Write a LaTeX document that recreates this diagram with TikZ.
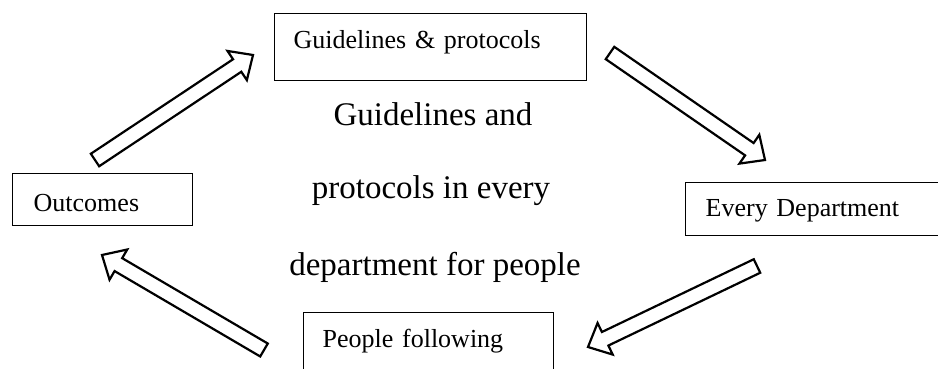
\documentclass[tikz,border=0pt]{standalone}
\usepackage{fontspec}
\setmainfont{Liberation Serif}
\usetikzlibrary{calc}

% outlined block arrow from a tail coordinate to a tip coordinate
\newcommand\blockarrow[2]{%
  \coordinate (#1-base) at ($(#2)!19pt!(#1)$);
  \draw[barrow]
    ($(#1)!7.5pt!90:(#2)$) -- ($(#1-base)!7.5pt!90:(#2)$) --
    ($(#1-base)!17.5pt!90:(#2)$) -- (#2) --
    ($(#1-base)!17.5pt!-90:(#2)$) -- ($(#1-base)!7.5pt!-90:(#2)$) --
    ($(#1)!7.5pt!-90:(#2)$) -- cycle;
}

\tikzset{
  box/.style={draw, line width=1.4pt, anchor=north west, inner ysep=0pt,
    align=left, font=\fontsize{26}{30}\selectfont},
  barrow/.style={draw, line width=2.2pt, line join=miter, fill=white},
  centretext/.style={anchor=base, font=\fontsize{33}{38}\selectfont, inner sep=0pt}
}

\begin{document}
\begin{tikzpicture}[x=1pt, y=-1pt]
\useasboundingbox (0,0) rectangle (938,369);
\clip (0,0) rectangle (938,369);

% process boxes
\node[box, inner xsep=19pt, text width=274pt, text height=35pt, text depth=32pt]
  (gp) at (274,13) {Guidelines \& protocols};
\node[box, inner xsep=21pt, text width=138pt, text height=38pt, text depth=14pt]
  (out) at (12,173) {Outcomes};
\node[box, inner xsep=20pt, text width=220pt, text height=34pt, text depth=19pt]
  (dept) at (685,182) {Every Department};
\node[box, inner xsep=19pt, text width=212pt, text height=35pt, text depth=40pt]
  (ppl) at (303,312) {People following};

% central caption
\node[centretext] (c1) at (433,125) {Guidelines and};
\node[centretext] (c2) at (431,198) {protocols in every};
\node[centretext] (c3) at (435,275) {department for people};

% arrow end points
\coordinate (t1) at (95,160);   \coordinate (h1) at (253,55);
\coordinate (t2) at (610,53);   \coordinate (h2) at (765,160);
\coordinate (t3) at (757,266);  \coordinate (h3) at (588,347);
\coordinate (t4) at (264,350);  \coordinate (h4) at (102,255);

\blockarrow{t1}{h1}
\blockarrow{t2}{h2}
\blockarrow{t3}{h3}
\blockarrow{t4}{h4}
\end{tikzpicture}
\end{document}
